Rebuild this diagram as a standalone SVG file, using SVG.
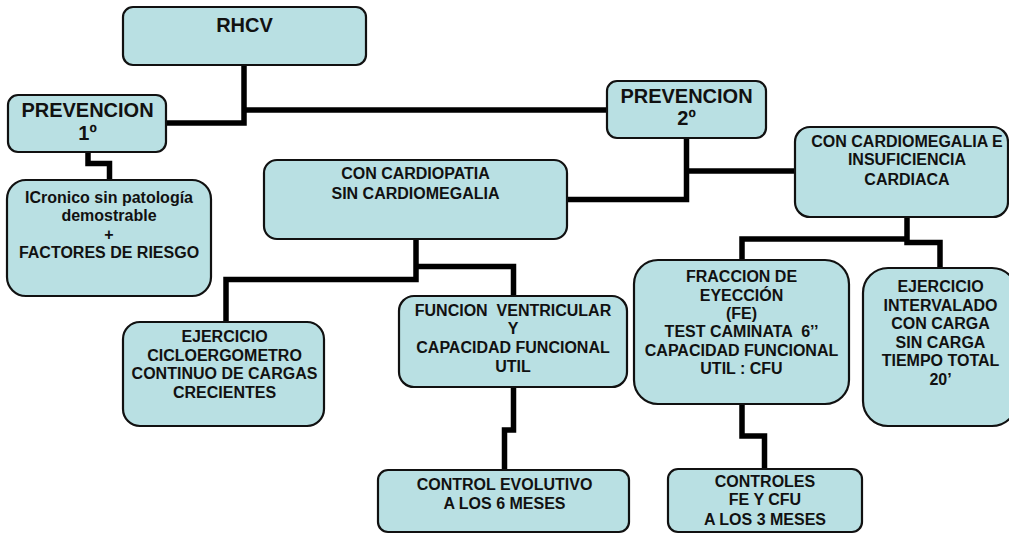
<svg xmlns="http://www.w3.org/2000/svg" width="1009" height="534" viewBox="0 0 1009 534">
<style>
.box{fill:#B9E0E3;stroke:#111;stroke-width:2.2}
.t{font-family:"Liberation Sans",Arial,sans-serif;font-weight:bold;font-size:16px;fill:#111;text-anchor:middle}
.big{font-size:20px}
.c{fill:none;stroke:#000;stroke-width:5.5;stroke-linejoin:miter}
</style>
<rect width="1009" height="534" fill="#fff"/>
<g id="connectors">
<path class="c" d="M244 65 V123 H166"/>
<path class="c" d="M244 110 H607"/>
<path class="c" d="M88 152 V163.5 H109.5 V180"/>
<path class="c" d="M686.5 138 V199.5 H567"/>
<path class="c" d="M686.5 171 H795"/>
<path class="c" d="M907 217 V242.5 H940 V268"/>
<path class="c" d="M907 239 H742 V260"/>
<path class="c" d="M742 404 V436 H764.5 V469"/>
<path class="c" d="M416 239 V279.5 H226 V322"/>
<path class="c" d="M416 266.5 H513.5 V296"/>
<path class="c" d="M513.5 387 V430 H504.5 V470"/>
</g>
<g id="rhcv">
<rect class="box" x="123" y="7" width="243" height="58" rx="10"/>
<text class="t big" x="244.5" y="32">RHCV</text>
</g>
<g id="prevencion1">
<rect class="box" x="8" y="95" width="158" height="57" rx="10"/>
<text class="t big" x="87.5" y="117">PREVENCION</text>
<text class="t big" x="87.5" y="140">1º</text>
</g>
<g id="prevencion2">
<rect class="box" x="607" y="81" width="159" height="57" rx="10"/>
<text class="t big" x="686.5" y="103">PREVENCION</text>
<text class="t big" x="686.5" y="125">2º</text>
</g>
<g id="icronico">
<rect class="box" x="7" y="180" width="204" height="116" rx="19"/>
<text class="t" x="109" y="203">ICronico sin patología</text>
<text class="t" x="109" y="221">demostrable</text>
<text class="t" x="109" y="240">+</text>
<text class="t" x="109" y="258">FACTORES DE RIESGO</text>
</g>
<g id="cardiopatia">
<rect class="box" x="264" y="160" width="303" height="79" rx="13"/>
<text class="t" x="415.5" y="179">CON CARDIOPATIA</text>
<text class="t" x="415.5" y="199">SIN CARDIOMEGALIA</text>
</g>
<g id="cardiomegalia">
<rect class="box" x="795" y="127" width="213" height="90" rx="15"/>
<text class="t" x="907" y="147">CON CARDIOMEGALIA E</text>
<text class="t" x="907" y="165">INSUFICIENCIA</text>
<text class="t" x="907" y="185">CARDIACA</text>
</g>
<g id="ejercicio">
<rect class="box" x="123" y="322" width="201" height="104" rx="17"/>
<text class="t" x="224.5" y="342">EJERCICIO</text>
<text class="t" x="224.5" y="361">CICLOERGOMETRO</text>
<text class="t" x="224.5" y="379">CONTINUO DE CARGAS</text>
<text class="t" x="224.5" y="398">CRECIENTES</text>
</g>
<g id="funcion">
<rect class="box" x="399" y="296" width="228" height="91" rx="15"/>
<text class="t" x="513" y="316" xml:space="preserve">FUNCION  VENTRICULAR</text>
<text class="t" x="513" y="334">Y</text>
<text class="t" x="513" y="353">CAPACIDAD FUNCIONAL</text>
<text class="t" x="513" y="372">UTIL</text>
</g>
<g id="fraccion">
<rect class="box" x="634" y="260" width="215" height="144" rx="24"/>
<text class="t" x="741.5" y="282">FRACCION DE</text>
<text class="t" x="741.5" y="301">EYECCIÓN</text>
<text class="t" x="741.5" y="319">(FE)</text>
<text class="t" x="741.5" y="337" xml:space="preserve">TEST CAMINATA  6’’</text>
<text class="t" x="741.5" y="356">CAPACIDAD FUNCIONAL</text>
<text class="t" x="741.5" y="374">UTIL : CFU</text>
</g>
<g id="intervalado">
<rect class="box" x="863" y="268" width="154" height="158" rx="25"/>
<text class="t" x="940.5" y="292">EJERCICIO</text>
<text class="t" x="940.5" y="311">INTERVALADO</text>
<text class="t" x="940.5" y="329">CON CARGA</text>
<text class="t" x="940.5" y="348">SIN CARGA</text>
<text class="t" x="940.5" y="366">TIEMPO TOTAL</text>
<text class="t" x="940.5" y="385">20’</text>
</g>
<g id="control-evolutivo">
<rect class="box" x="378" y="470" width="251" height="62" rx="10"/>
<text class="t" x="504.5" y="490">CONTROL EVOLUTIVO</text>
<text class="t" x="504.5" y="509">A LOS 6 MESES</text>
</g>
<g id="controles">
<rect class="box" x="668" y="469" width="194" height="63" rx="10"/>
<text class="t" x="765" y="487">CONTROLES</text>
<text class="t" x="765" y="505">FE Y CFU</text>
<text class="t" x="765" y="525">A LOS 3 MESES</text>
</g>
</svg>
